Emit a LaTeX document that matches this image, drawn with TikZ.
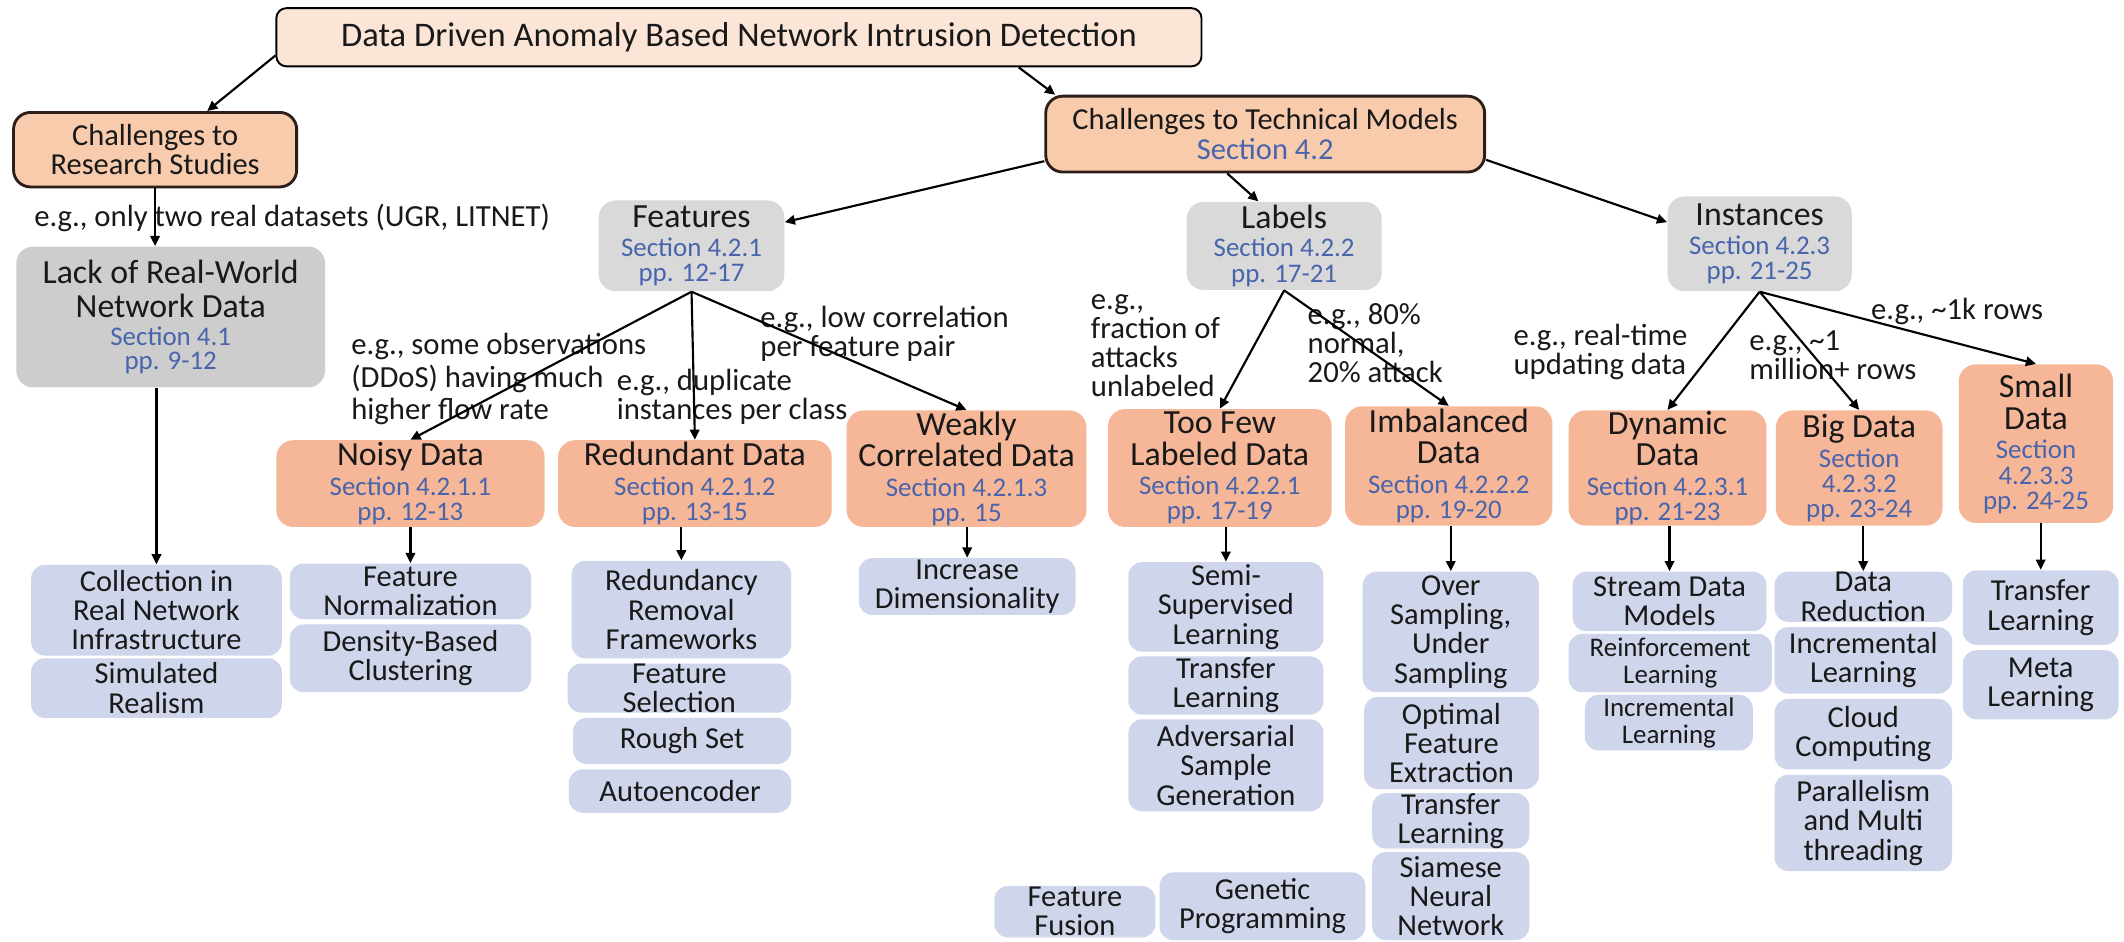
\documentclass[tikz,border=0pt]{standalone}
\usepackage{fontspec}
\setmainfont{Carlito}
\usepackage{xcolor}
\usepackage{tikz}
\usetikzlibrary{arrows.meta}
\definecolor{txt}{RGB}{25,25,25}
\definecolor{secbl}{RGB}{72,100,172}
\definecolor{brd}{RGB}{45,30,25}
\definecolor{peach}{RGB}{251,229,214}
\definecolor{salmon}{RGB}{248,203,173}
\definecolor{grey1}{RGB}{205,205,205}
\definecolor{grey2}{RGB}{217,217,217}
\definecolor{orng}{RGB}{246,183,152}
\definecolor{lav}{RGB}{207,214,235}
\newcommand{\SC}[1]{\textcolor{secbl}{#1}}
\newcommand{\HD}[1]{{\fontsize{14.2}{14}\selectfont #1}}
\newcommand{\secfont}{\fontsize{11.3}{10.6}\selectfont\lineskiplimit=-50pt\relax}
\newcommand{\boxfont}{\fontsize{12.8}{12.3}\selectfont\lineskiplimit=-50pt\relax}
\newcommand{\smfont}{\fontsize{11.3}{11.4}\selectfont\lineskiplimit=-50pt\relax}
\newcommand{\notefont}{\fontsize{12.9}{12.2}\selectfont\lineskiplimit=-50pt\relax}

\begin{document}
\begin{tikzpicture}[x=1cm,y=1cm,
  tbox/.style={draw=black,line width=0.8pt,fill=peach,rounded corners=0.15cm,inner sep=0pt,align=center,text=txt},
  cbox/.style={draw=brd,line width=1.2pt,fill=salmon,rounded corners=0.25cm,inner sep=0pt,align=center,font=\boxfont,text=txt},
  gbox/.style={fill=grey2,rounded corners=0.25cm,inner sep=0pt,align=center,font=\secfont,text=txt},
  obox/.style={fill=orng,rounded corners=0.25cm,inner sep=0pt,align=center,font=\secfont,text=txt},
  bbox/.style={fill=lav,rounded corners=0.2cm,inner sep=0pt,align=center,font=\boxfont,text=txt},
  note/.style={anchor=west,inner sep=0pt,align=left,font=\notefont,text=txt},
  arr/.style={-{Triangle[length=1.5mm,width=1.4mm]},line width=0.9pt}]
  \path[fill=white] (0,0) rectangle (31.36,13.9);
  \useasboundingbox (0,0) rectangle (31.36,13.9);

  % top
  \node[tbox,minimum width=13.66cm,minimum height=0.86cm,font=\fontsize{14.5}{16}\selectfont] (title) at (10.91,13.35) {Data Driven Anomaly Based Network Intrusion Detection};
  \node[cbox,minimum width=4.18cm,minimum height=1.10cm] (crs) at (2.29,11.69) {Challenges to\\Research Studies};
  \node[cbox,minimum width=6.48cm,minimum height=1.12cm] (ctm) at (18.68,11.92) {Challenges to Technical Models\\\SC{Section 4.2}};
  \draw[arr] ([yshift=-0.27cm]title.west) -- ([xshift=0.77cm]crs.north);
  \draw[arr] ([xshift=4.13cm]title.south) -- ([xshift=0.16cm]ctm.north west);

  % research studies
  \node[note] (n0) at (0.50,10.68) {e.g., only two real datasets (UGR, LITNET)};
  \node[gbox,fill=grey1,minimum width=4.56cm,minimum height=2.08cm] (lack) at (2.52,9.22) {\HD{Lack of Real-World}\\[3.6pt]\HD{Network Data}\\[1.3pt]\SC{Section 4.1}\\[-0.4pt]\SC{pp. 9-12}};
  \node[bbox,minimum width=3.70cm,minimum height=1.34cm] (collection) at (2.31,4.89) {Collection in\\Real Network\\Infrastructure};
  \node[bbox,minimum width=3.70cm,minimum height=0.88cm] (simulated) at (2.31,3.74) {Simulated\\Realism};
  \draw[arr] (crs.south) -- (crs.south |- lack.north);
  \draw[arr] (lack.south -| collection.north) -- (collection.north);

  % second level
  \node[gbox,minimum width=2.74cm,minimum height=1.34cm] (features) at (10.21,10.27) {\HD{Features}\\[1.3pt]\SC{Section 4.2.1}\\\SC{pp. 12-17}};
  \node[gbox,minimum width=2.88cm,minimum height=1.30cm] (labels) at (18.96,10.27) {\HD{Labels}\\[1.3pt]\SC{Section 4.2.2}\\\SC{pp. 17-21}};
  \node[gbox,minimum width=2.72cm,minimum height=1.40cm] (instances) at (25.98,10.30) {\HD{Instances}\\[1.3pt]\SC{Section 4.2.3}\\\SC{pp. 21-25}};
  \draw[arr] ([yshift=-0.4cm]ctm.west) -- ([yshift=0.35cm]features.east);
  \draw[arr] ([xshift=-0.56cm]ctm.south) -- ([xshift=-0.38cm]labels.north);
  \draw[arr] ([yshift=-0.38cm]ctm.east) -- ([yshift=0.32cm]instances.west);

  % notes on the branches
  \node[note] (n1) at (5.18,8.30) {e.g., some observations\\[1.4pt](DDoS) having much\\[1.4pt]higher flow rate};
  \node[note] (n2) at (9.10,8.04) {e.g., duplicate\\instances per class};
  \node[note] (n3) at (11.22,8.97) {e.g., low correlation\\per feature pair};
  \node[note] (n4) at (16.10,8.80) {e.g.,\\fraction of\\attacks\\unlabeled};
  \node[note] (n5) at (19.30,8.83) {e.g., 80\%\\normal,\\20\% attack};
  \node[note] (n6) at (22.34,8.71) {e.g., real-time\\updating data};
  \node[note] (n7) at (25.82,8.66) {e.g., \textasciitilde1\\million+ rows};
  \node[note] (n8) at (27.62,9.30) {e.g., \textasciitilde1k rows};

  % challenge boxes
  \node[obox,minimum width=3.96cm,minimum height=1.28cm] (noisy) at (6.06,6.76) {\HD{Noisy Data}\\[1.8pt]\SC{Section 4.2.1.1}\\\SC{pp. 12-13}};
  \node[obox,minimum width=4.04cm,minimum height=1.28cm] (redundant) at (10.26,6.76) {\HD{Redundant Data}\\[1.8pt]\SC{Section 4.2.1.2}\\\SC{pp. 13-15}};
  \node[obox,minimum width=3.54cm,minimum height=1.72cm] (weakly) at (14.27,6.98) {\HD{Weakly}\\[2.6pt]\HD{Correlated Data}\\[1.8pt]\SC{Section 4.2.1.3}\\\SC{pp. 15}};
  \node[obox,minimum width=3.30cm,minimum height=1.74cm] (toofew) at (18.01,6.99) {\HD{Too Few}\\[2.6pt]\HD{Labeled Data}\\[1.8pt]\SC{Section 4.2.2.1}\\\SC{pp. 17-19}};
  \node[obox,minimum width=3.06cm,minimum height=1.76cm] (imbalanced) at (21.39,7.02) {\HD{Imbalanced}\\[2.6pt]\HD{Data}\\[1.8pt]\SC{Section 4.2.2.2}\\\SC{pp. 19-20}};
  \node[obox,minimum width=2.92cm,minimum height=1.70cm] (dynamic) at (24.62,6.99) {\HD{Dynamic}\\[2.6pt]\HD{Data}\\[1.8pt]\SC{Section 4.2.3.1}\\\SC{pp. 21-23}};
  \node[obox,minimum width=2.46cm,minimum height=1.70cm] (bigdata) at (27.45,6.99) {\HD{Big Data}\\[1.8pt]\SC{Section}\\\SC{4.2.3.2}\\\SC{pp. 23-24}};
  \node[obox,minimum width=2.28cm,minimum height=2.34cm] (small) at (30.06,7.35) {\HD{Small}\\[3pt]\HD{Data}\\[1.8pt]\SC{Section}\\\SC{4.2.3.3}\\\SC{pp. 24-25}};
  \foreach \c in {noisy,redundant,weakly} \draw[arr] (features.south) -- (\c.north);
  \foreach \c in {toofew,imbalanced} \draw[arr] (labels.south) -- (\c.north);
  \foreach \c in {dynamic,bigdata,small} \draw[arr] (instances.south) -- (\c.north);

  % solutions
  \node[bbox,minimum width=3.56cm,minimum height=0.82cm] (featnorm) at (6.06,5.17) {Feature\\Normalization};
  \node[bbox,minimum width=3.56cm,minimum height=1.00cm] (density) at (6.06,4.18) {Density-Based\\Clustering};
  \node[bbox,minimum width=3.24cm,minimum height=1.44cm] (redrem) at (10.06,4.90) {Redundancy\\Removal\\Frameworks};
  \node[bbox,minimum width=3.30cm,minimum height=0.72cm] (featsel) at (10.03,3.74) {Feature\\Selection};
  \node[bbox,minimum width=3.22cm,minimum height=0.68cm] (roughset) at (10.07,2.96) {Rough Set};
  \node[bbox,minimum width=3.28cm,minimum height=0.64cm] (autoenc) at (10.04,2.22) {Autoencoder};
  \node[bbox,minimum width=3.20cm,minimum height=0.84cm] (incdim) at (14.28,5.24) {Increase\\Dimensionality};
  \node[bbox,minimum width=2.88cm,minimum height=1.32cm] (semisup) at (18.10,4.94) {Semi-\\Supervised\\Learning};
  \node[bbox,minimum width=2.88cm,minimum height=0.86cm] (transfera) at (18.10,3.78) {Transfer\\Learning};
  \node[bbox,minimum width=2.88cm,minimum height=1.36cm] (advers) at (18.10,2.60) {Adversarial\\Sample\\Generation};
  \node[bbox,minimum width=2.38cm,minimum height=0.76cm] (fusion) at (15.87,0.44) {Feature\\Fusion};
  \node[bbox,minimum width=3.04cm,minimum height=1.00cm] (genetic) at (18.64,0.52) {Genetic\\Programming};
  \node[bbox,minimum width=2.60cm,minimum height=1.78cm] (oversamp) at (21.42,4.57) {Over\\Sampling,\\Under\\Sampling};
  \node[bbox,minimum width=2.58cm,minimum height=1.36cm] (optfeat) at (21.43,2.93) {Optimal\\Feature\\Extraction};
  \node[bbox,minimum width=2.32cm,minimum height=0.80cm] (transferb) at (21.42,1.78) {Transfer\\Learning};
  \node[bbox,minimum width=2.32cm,minimum height=1.30cm] (siamese) at (21.42,0.67) {Siamese\\Neural\\Network};
  \node[bbox,minimum width=2.86cm,minimum height=0.88cm] (stream) at (24.65,5.02) {Stream Data\\Models};
  \node[bbox,minimum width=3.00cm,minimum height=0.86cm,font=\smfont] (reinf) at (24.66,4.11) {Reinforcement\\Learning};
  \node[bbox,minimum width=2.48cm,minimum height=0.82cm,font=\smfont] (incdyn) at (24.64,3.23) {Incremental\\Learning};
  \node[bbox,minimum width=2.62cm,minimum height=0.74cm] (datared) at (27.51,5.09) {Data\\Reduction};
  \node[bbox,minimum width=2.62cm,minimum height=0.98cm] (incbig) at (27.51,4.15) {Incremental\\Learning};
  \node[bbox,minimum width=2.62cm,minimum height=1.04cm] (cloud) at (27.51,3.06) {Cloud\\Computing};
  \node[bbox,minimum width=2.62cm,minimum height=1.42cm] (parallel) at (27.51,1.75) {Parallelism\\and Multi\\threading};
  \node[bbox,minimum width=2.30cm,minimum height=1.10cm] (transferc) at (30.13,4.93) {Transfer\\Learning};
  \node[bbox,minimum width=2.30cm,minimum height=1.02cm] (meta) at (30.13,3.79) {Meta\\Learning};

  \foreach \a/\b in {noisy/featnorm,redundant/redrem,weakly/incdim,toofew/semisup,imbalanced/oversamp,dynamic/stream,bigdata/datared,small/transferc}
    \draw[arr] (\b.north |- \a.south) -- (\b.north);
\end{tikzpicture}
\end{document}
